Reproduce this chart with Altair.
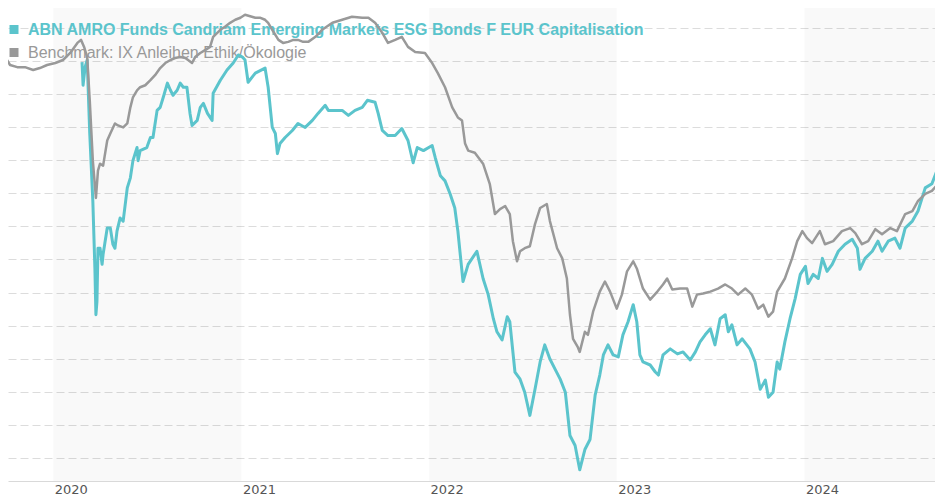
import altair as alt
import pandas as pd

# ---------------- data ----------------
fund_name = "ABN AMRO Funds Candriam Emerging Markets ESG Bonds F EUR Capitalisation"
bench_name = "Benchmark: IX Anleihen Ethik/Ökologie"

bench_dates = [
    "2019-10-03", "2019-10-09", "2019-10-23", "2019-11-07", "2019-11-23", "2019-12-06", "2019-12-20", "2020-01-05", "2020-01-20", "2020-02-03",
    "2020-02-17", "2020-02-24", "2020-03-01", "2020-03-07", "2020-03-12", "2020-03-18", "2020-03-24", "2020-03-28", "2020-04-01", "2020-04-07",
    "2020-04-15", "2020-04-21", "2020-04-30", "2020-05-06", "2020-05-16", "2020-05-24", "2020-05-30", "2020-06-04", "2020-06-12", "2020-06-18",
    "2020-06-28", "2020-07-08", "2020-07-17", "2020-07-27", "2020-08-06", "2020-08-16", "2020-08-25", "2020-09-04", "2020-09-14", "2020-09-27",
    "2020-10-03", "2020-10-13", "2020-10-23", "2020-11-01", "2020-11-07", "2020-11-15", "2020-11-21", "2020-11-30", "2020-12-10", "2020-12-20",
    "2020-12-30", "2021-01-08", "2021-01-28", "2021-02-07", "2021-02-16", "2021-02-22", "2021-03-02", "2021-03-14", "2021-03-23", "2021-04-02",
    "2021-04-12", "2021-04-21", "2021-05-01", "2021-05-11", "2021-05-25", "2021-06-07", "2021-06-27", "2021-07-16", "2021-08-04", "2021-08-24",
    "2021-09-05", "2021-09-18", "2021-10-02", "2021-10-13", "2021-10-27", "2021-11-09", "2021-11-21", "2021-12-05", "2021-12-24", "2022-01-07",
    "2022-01-18", "2022-02-01", "2022-02-15", "2022-02-26", "2022-03-06", "2022-03-12", "2022-03-18", "2022-03-31", "2022-04-16", "2022-04-29",
    "2022-05-09", "2022-05-19", "2022-05-29", "2022-06-07", "2022-06-13", "2022-06-21", "2022-06-27", "2022-07-06", "2022-07-16", "2022-07-26",
    "2022-08-05", "2022-08-18", "2022-08-24", "2022-09-07", "2022-09-17", "2022-09-26", "2022-10-02", "2022-10-08", "2022-10-17", "2022-10-21",
    "2022-10-31", "2022-11-06", "2022-11-16", "2022-11-29", "2022-12-09", "2022-12-19", "2023-01-01", "2023-01-11", "2023-01-21", "2023-02-02",
    "2023-02-09", "2023-02-21", "2023-03-07", "2023-03-21", "2023-04-01", "2023-04-09", "2023-04-19", "2023-05-04", "2023-05-18", "2023-05-28",
    "2023-06-06", "2023-06-18", "2023-07-02", "2023-07-17", "2023-07-31", "2023-08-13", "2023-08-25", "2023-09-08", "2023-09-21", "2023-10-03",
    "2023-10-13", "2023-10-23", "2023-11-01", "2023-11-09", "2023-11-24", "2023-12-08", "2023-12-18", "2023-12-28", "2024-01-06", "2024-01-16",
    "2024-01-31", "2024-02-10", "2024-02-26", "2024-03-14", "2024-03-30", "2024-04-09", "2024-04-22", "2024-05-04", "2024-05-18", "2024-05-31",
    "2024-06-16", "2024-06-29", "2024-07-15", "2024-07-29", "2024-08-09", "2024-08-23", "2024-09-05", "2024-09-17", "2024-09-27",
]
bench_values = [
    0.08, -0.30, -0.46, -0.46, -0.68, -0.53, -0.30, -0.15, 0.08, 0.61,
    1.37, 1.60, 1.07, 0.30, -2.97, -7.53, -10.35, -8.29, -7.76, -7.91,
    -6.01, -5.48, -4.72, -4.87, -5.02, -4.72, -3.50, -2.74, -2.21, -1.98,
    -1.83, -1.45, -1.07, -0.53, -0.15, 0.08, 0.23, 0.30, 0.23, -0.15,
    0.30, 0.61, 0.84, 1.07, 1.83, 2.13, 2.36, 2.59, 2.89, 3.12,
    3.27, 3.50, 3.27, 3.27, 3.12, 2.89, 2.36, 1.60, 1.37, 1.45,
    1.60, 1.60, 1.45, 1.45, 1.83, 2.36, 2.89, 3.12, 3.35, 3.27,
    3.27, 2.89, 2.13, 1.37, 1.60, 1.83, 1.07, 0.68, 0.61, -0.15,
    -0.91, -1.98, -3.50, -4.26, -4.49, -6.24, -6.77, -6.93, -7.76, -9.28,
    -11.57, -11.19, -10.96, -11.57, -13.62, -15.14, -14.38, -14.15, -14.00, -12.33,
    -11.11, -10.81, -12.10, -14.15, -14.92, -16.44, -19.18, -21.00, -21.61, -21.99,
    -20.47, -20.70, -18.95, -17.43, -16.67, -17.43, -18.72, -17.66, -15.90, -15.14,
    -15.68, -17.20, -18.04, -17.43, -16.89, -16.44, -17.27, -17.20, -17.20, -18.57,
    -17.66, -17.58, -17.43, -17.20, -16.89, -17.20, -17.66, -17.20, -17.66, -18.72,
    -18.42, -19.33, -18.95, -17.43, -16.44, -14.92, -13.62, -12.86, -13.39, -13.77,
    -12.86, -13.85, -13.62, -12.86, -12.63, -13.01, -13.85, -13.62, -12.71, -13.09,
    -12.63, -12.86, -11.57, -11.34, -10.58, -10.05, -9.82, -9.28, -9.06,
]

fund_dates = [
    "2020-02-26", "2020-02-28", "2020-03-03", "2020-03-07", "2020-03-12", "2020-03-18", "2020-03-22", "2020-03-24", "2020-03-26", "2020-03-28",
    "2020-04-01", "2020-04-05", "2020-04-07", "2020-04-15", "2020-04-21", "2020-04-26", "2020-04-30", "2020-05-04", "2020-05-10", "2020-05-16",
    "2020-05-24", "2020-05-30", "2020-06-04", "2020-06-12", "2020-06-14", "2020-06-18", "2020-07-01", "2020-07-08", "2020-07-13", "2020-07-21",
    "2020-07-27", "2020-08-02", "2020-08-10", "2020-08-16", "2020-08-21", "2020-08-29", "2020-09-04", "2020-09-10", "2020-09-17", "2020-09-23",
    "2020-09-27", "2020-10-07", "2020-10-13", "2020-10-19", "2020-10-27", "2020-11-05", "2020-11-07", "2020-11-21", "2020-12-04", "2020-12-16",
    "2020-12-26", "2021-01-03", "2021-01-08", "2021-01-14", "2021-01-28", "2021-02-16", "2021-02-22", "2021-03-02", "2021-03-08", "2021-03-12",
    "2021-03-17", "2021-03-27", "2021-04-10", "2021-04-21", "2021-05-05", "2021-05-19", "2021-05-30", "2021-06-13", "2021-06-19", "2021-07-02",
    "2021-07-16", "2021-07-28", "2021-08-10", "2021-08-24", "2021-09-03", "2021-09-18", "2021-09-24", "2021-10-02", "2021-10-13", "2021-10-27",
    "2021-11-09", "2021-11-21", "2021-12-01", "2021-12-09", "2021-12-21", "2022-01-07", "2022-01-13", "2022-01-23", "2022-02-01", "2022-02-11",
    "2022-02-20", "2022-02-26", "2022-03-08", "2022-03-18", "2022-04-04", "2022-04-16", "2022-04-26", "2022-05-06", "2022-05-13", "2022-05-23",
    "2022-06-02", "2022-06-07", "2022-06-17", "2022-06-27", "2022-07-06", "2022-07-16", "2022-07-26", "2022-08-05", "2022-08-14", "2022-08-24",
    "2022-09-03", "2022-09-13", "2022-09-23", "2022-10-02", "2022-10-12", "2022-10-21", "2022-10-31", "2022-11-10", "2022-11-20", "2022-11-29",
    "2022-12-06", "2022-12-15", "2022-12-25", "2023-01-04", "2023-01-13", "2023-01-23", "2023-02-02", "2023-02-09", "2023-02-15", "2023-02-21",
    "2023-03-07", "2023-03-17", "2023-03-23", "2023-04-01", "2023-04-15", "2023-04-29", "2023-05-10", "2023-05-24", "2023-06-03", "2023-06-12",
    "2023-06-22", "2023-07-02", "2023-07-11", "2023-07-21", "2023-07-31", "2023-08-06", "2023-08-13", "2023-08-23", "2023-09-02", "2023-09-17",
    "2023-09-27", "2023-10-07", "2023-10-17", "2023-10-23", "2023-11-01", "2023-11-09", "2023-11-14", "2023-11-24", "2023-12-04", "2023-12-14",
    "2023-12-24", "2024-01-03", "2024-01-08", "2024-01-18", "2024-01-28", "2024-02-05", "2024-02-14", "2024-02-24", "2024-03-07", "2024-03-20",
    "2024-04-03", "2024-04-13", "2024-04-18", "2024-04-28", "2024-05-12", "2024-05-23", "2024-05-31", "2024-06-12", "2024-06-25", "2024-07-05",
    "2024-07-15", "2024-07-29", "2024-08-09", "2024-08-23", "2024-09-05", "2024-09-17", "2024-09-25",
]
fund_values = [
    -0.08, -1.83, -0.46, 0.08, -5.48, -10.58, -15.68, -19.18, -18.19, -14.15,
    -14.15, -15.37, -14.61, -12.63, -12.63, -13.85, -14.15, -12.86, -11.87, -12.10,
    -9.59, -8.83, -7.53, -6.54, -7.53, -6.77, -6.54, -5.78, -5.78, -3.73,
    -3.50, -2.74, -1.67, -2.21, -2.59, -2.21, -1.67, -1.98, -1.98, -3.96,
    -4.87, -4.49, -3.50, -3.20, -3.96, -4.49, -2.44, -1.45, -0.68, -0.15,
    0.46, 0.30, 0.08, -1.60, -0.91, -0.53, -1.98, -5.02, -5.48, -7.00,
    -6.24, -5.78, -5.25, -4.72, -5.02, -4.49, -3.96, -3.35, -3.73, -3.73,
    -3.73, -4.11, -3.73, -3.50, -2.97, -3.12, -3.96, -5.25, -5.63, -5.63,
    -5.10, -6.01, -7.69, -6.54, -6.77, -6.39, -7.31, -8.68, -9.06, -10.05,
    -11.11, -12.86, -16.67, -15.37, -14.38, -16.44, -17.66, -19.48, -20.47, -21.08,
    -19.33, -19.71, -23.51, -24.05, -25.04, -26.79, -24.81, -22.75, -21.46, -22.53,
    -23.29, -24.05, -25.04, -28.31, -29.07, -30.90, -29.37, -28.61, -25.26, -23.74,
    -22.22, -21.46, -22.22, -22.37, -20.70, -19.71, -18.42, -19.71, -22.22, -22.75,
    -22.98, -23.51, -23.74, -22.22, -21.76, -22.14, -21.99, -22.60, -21.99, -21.23,
    -20.70, -20.24, -21.46, -19.48, -19.18, -20.47, -19.94, -21.46, -21.00, -21.76,
    -22.75, -24.81, -24.12, -25.42, -25.04, -22.75, -23.29, -21.23, -19.48, -17.96,
    -16.13, -15.52, -16.82, -16.13, -16.44, -14.92, -15.90, -15.37, -14.38, -13.85,
    -13.47, -14.15, -15.75, -14.92, -14.38, -13.62, -14.38, -13.62, -13.39, -14.15,
    -12.63, -12.10, -11.34, -9.59, -9.28, -8.07, -7.69,
]

assert len(bench_dates) == len(bench_values)
assert len(fund_dates) == len(fund_values)

years = [2020, 2021, 2022, 2023, 2024]
band_starts = ["2020-01-01", "2022-01-01", "2024-01-01"]
band_ends = ["2021-01-01", "2023-01-01", "2025-01-01"]
grid_levels = [2.5, 0, -2.5, -5, -7.5, -10, -12.5, -15, -17.5, -20, -22.5, -25, -27.5, -30]

TEAL = "#5bc4cc"
GREY = "#999999"

bench_df = pd.DataFrame({"date": bench_dates, "value": bench_values})
fund_df = pd.DataFrame({"date": fund_dates, "value": fund_values})
band_df = pd.DataFrame({"start": band_starts, "end": band_ends})

x_scale = alt.Scale(
    type="utc",
    domain=[alt.DateTime(year=2019, month=10, date=5, utc=True),
            alt.DateTime(year=2024, month=9, date=11, utc=True)],
)
y_scale = alt.Scale(domain=[-31.75, 4.01], nice=False, zero=False)

x_axis = alt.Axis(
    values=[alt.DateTime(year=y, month=1, date=1, utc=True) for y in years],
    format="%Y", title=None, grid=False, ticks=False,
    labelAlign="left", labelOffset=1, labelPadding=2,
    labelColor="#555555", labelFontSize=13, labelFont="DejaVu Sans",
    domainColor="#d9d9d9", domainWidth=1, labelFlush=False,
)
y_axis = alt.Axis(
    values=grid_levels, title=None, labels=False, ticks=False, domain=False,
    grid=True, gridColor="#dcdcdc", gridDash=[8, 4], gridWidth=1,
)

bands = alt.Chart(band_df).mark_rect(color="#000000", opacity=0.022, clip=True).encode(
    x=alt.X("start:T", scale=x_scale, axis=x_axis),
    x2="end:T",
)

legend_fund_sq = alt.Chart(pd.DataFrame({"label": [fund_name]})).mark_point(
    shape="square", filled=True, size=81, color=TEAL, opacity=1
).encode(x=alt.value(6), y=alt.value(21.5))
legend_fund_txt = alt.Chart(pd.DataFrame({"label": [fund_name]})).mark_text(
    align="left", baseline="alphabetic", font="Liberation Sans", fontSize=16,
    fontWeight="bold", color=TEAL
).encode(x=alt.value(20), y=alt.value(26.8), text="label:N")

legend_bench_sq = alt.Chart(pd.DataFrame({"label": [bench_name]})).mark_point(
    shape="square", filled=True, size=81, color=GREY, opacity=1
).encode(x=alt.value(6), y=alt.value(44.5))
legend_bench_txt = alt.Chart(pd.DataFrame({"label": [bench_name]})).mark_text(
    align="left", baseline="alphabetic", font="Liberation Sans", fontSize=16,
    color=GREY
).encode(x=alt.value(20), y=alt.value(50.3), text="label:N")

fund_line = alt.Chart(fund_df).mark_line(
    color=TEAL, strokeWidth=3, clip=True, strokeJoin="round"
).encode(
    x=alt.X("date:T", scale=x_scale, axis=x_axis),
    y=alt.Y("value:Q", scale=y_scale, axis=y_axis),
)
bench_line = alt.Chart(bench_df).mark_line(
    color=GREY, strokeWidth=2.5, clip=True, strokeJoin="round"
).encode(
    x=alt.X("date:T", scale=x_scale, axis=x_axis),
    y=alt.Y("value:Q", scale=y_scale, axis=y_axis),
)

chart = alt.layer(
    bands, legend_fund_sq, legend_fund_txt, legend_bench_sq, legend_bench_txt,
    fund_line, bench_line,
).properties(
    width=927, height=473, padding=0, background="white"
).configure_view(stroke=None)

chart.save("out.html", embed_options={"renderer": "svg", "actions": False})
